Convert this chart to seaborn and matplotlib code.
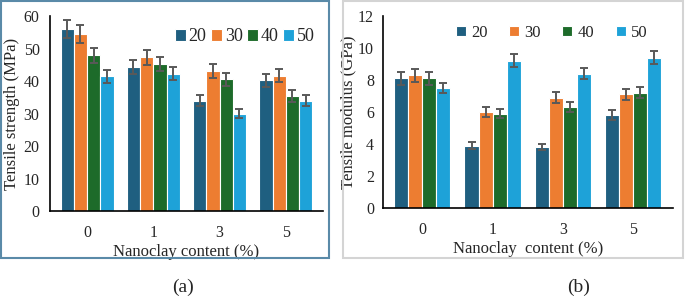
import pandas as pd
import matplotlib.pyplot as plt
import seaborn as sns
from matplotlib.patches import Rectangle

contents = ['0', '1', '3', '5']
groups = ['20', '30', '40', '50']

strength = {
    '20': [56.0, 44.3, 34.0, 40.3],
    '30': [54.5, 47.3, 43.2, 41.6],
    '40': [48.0, 45.3, 40.6, 35.5],
    '50': [41.5, 42.3, 30.0, 34.0],
}
strength_err = {
    '20': [2.8, 2.2, 1.7, 2.0],
    '30': [2.7, 2.4, 2.2, 2.0],
    '40': [2.3, 2.2, 2.0, 1.8],
    '50': [2.0, 2.1, 1.5, 1.7],
}
modulus = {
    '20': [8.1, 3.9, 3.8, 5.8],
    '30': [8.3, 6.0, 6.9, 7.1],
    '40': [8.1, 5.9, 6.3, 7.2],
    '50': [7.5, 9.2, 8.4, 9.4],
}
modulus_err = {
    '20': [0.4, 0.2, 0.2, 0.3],
    '30': [0.4, 0.3, 0.35, 0.35],
    '40': [0.4, 0.3, 0.3, 0.35],
    '50': [0.3, 0.4, 0.35, 0.4],
}

palette = ['#1f5f80', '#ed7d31', '#1d6b2a', '#1ea2d8']


def to_frame(vals, errs):
    rows = []
    for g in groups:
        for c, v, e in zip(contents, vals[g], errs[g]):
            rows.append({'content': c, 'group': g, 'value': v, 'err': e})
    return pd.DataFrame(rows)


def draw(ax, df, ylabel, xlabel, ymax, step):
    sns.barplot(data=df, x='content', y='value', hue='group', order=contents,
                hue_order=groups, palette=palette, ax=ax, width=0.8,
                edgecolor='white', linewidth=0.8, errorbar=None, saturation=1)
    for g, cont in zip(groups, ax.containers):
        sub = df[df['group'] == g].set_index('content').loc[contents]
        xs = [p.get_x() + p.get_width() / 2 for p in cont]
        ax.errorbar(xs, sub['value'], yerr=sub['err'], fmt='none',
                    ecolor='#595959', elinewidth=1.4, capsize=3.2, capthick=1.4)
    ax.set_ylim(0, ymax)
    ax.set_yticks(range(0, ymax + 1, step))
    ax.set_xlim(-0.56, 3.56)
    ax.set_ylabel(ylabel, fontsize=12)
    ax.set_xlabel(xlabel, fontsize=12, labelpad=2)
    ax.tick_params(axis='both', labelsize=11.5)
    ax.tick_params(axis='x', length=0, pad=10)
    for s in ['top', 'right']:
        ax.spines[s].set_visible(False)
    for s in ['left', 'bottom']:
        ax.spines[s].set_color('black')
        ax.spines[s].set_linewidth(1.2)


sns.set_style('white')
plt.rcParams['font.family'] = ['Liberation Serif', 'DejaVu Serif']
fig = plt.figure(figsize=(6.85, 2.98), dpi=100)
ax1 = fig.add_axes([0.073, 0.292, 0.3985, 0.654])
ax2 = fig.add_axes([0.559, 0.302, 0.423, 0.644])

draw(ax1, to_frame(strength, strength_err), 'Tensile strength (MPa)',
     'Nanoclay content (%)', 60, 10)
draw(ax2, to_frame(modulus, modulus_err), 'Tensile modulus (GPa)',
     'Nanoclay  content (%)', 12, 2)
ax1.tick_params(axis='y', direction='out', length=4)
ax2.tick_params(axis='y', direction='inout', length=6)
ax1.yaxis.set_label_coords(-0.11, 0.5)
ax2.yaxis.set_label_coords(-0.092, 0.5)

ax1.legend(title=None, ncol=4, frameon=False, loc='upper right',
           bbox_to_anchor=(0.995, 0.975), fontsize=13, handlelength=0.6,
           handleheight=0.65, handletextpad=0.15, columnspacing=0.25,
           borderaxespad=0)
ax2.legend(title=None, ncol=4, frameon=False, loc='upper right',
           bbox_to_anchor=(0.935, 0.99), fontsize=12, handlelength=0.6,
           handleheight=0.55, handletextpad=0.3, columnspacing=1.3,
           borderaxespad=0)

fig.patches.append(Rectangle((0.002, 0.135), 0.479, 0.86, transform=fig.transFigure,
                             fill=False, edgecolor='#5a8aa8', linewidth=1.5))
fig.patches.append(Rectangle((0.501, 0.135), 0.496, 0.86, transform=fig.transFigure,
                             fill=False, edgecolor='#d4d4d4', linewidth=1.5))

fig.text(0.267, 0.02, '(a)', ha='center', fontsize=14)
fig.text(0.844, 0.02, '(b)', ha='center', fontsize=14)

fig.savefig('out.png', dpi=100)
